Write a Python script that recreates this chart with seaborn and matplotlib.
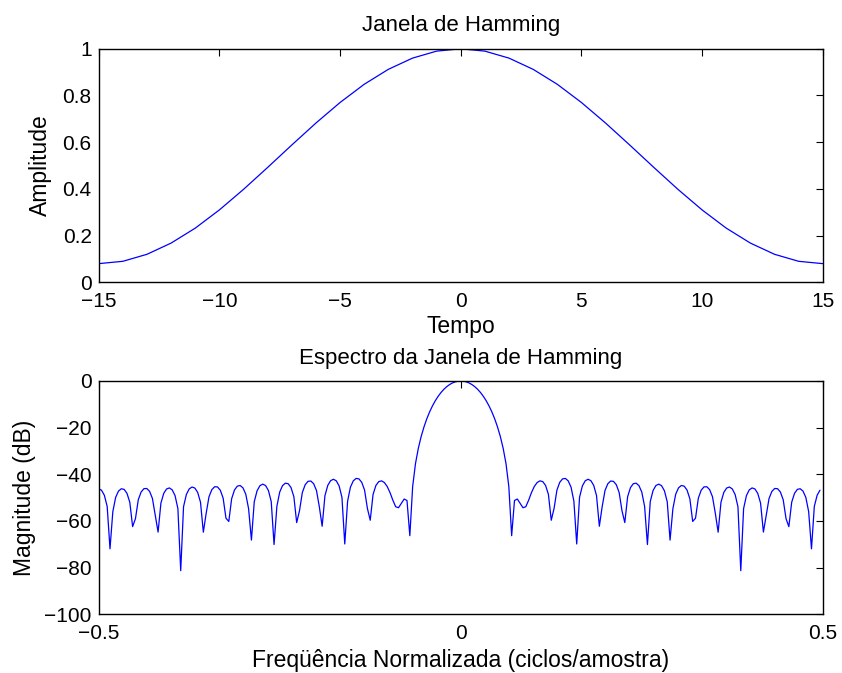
import numpy as np
import pandas as pd
import matplotlib
matplotlib.use("Agg")
import matplotlib.pyplot as plt
from matplotlib.ticker import FuncFormatter
import seaborn as sns

# ---- data ----
tempo = list(range(-15, 16))
half = [0.080, 0.090, 0.120, 0.168, 0.232, 0.310, 0.398, 0.492,
        0.588, 0.682, 0.770, 0.848, 0.912, 0.960, 0.990]
amplitude = half + [1.000] + half[::-1]

# spectrum of the window above (FFT of the listed amplitudes)
n_fft = 256
top_yticks = [0, 0.2, 0.4, 0.6, 0.8, 1]
top_xticks = [-15, -10, -5, 0, 5, 10, 15]
bot_yticks = [-100, -80, -60, -40, -20, 0]
bot_xticks = [-0.5, 0, 0.5]

spec = np.fft.fftshift(np.fft.fft(np.array(amplitude), n_fft))
mag_db = 20 * np.log10(np.abs(spec) / np.max(np.abs(spec)))
freq = (np.arange(n_fft) - n_fft // 2) / n_fft

df_top = pd.DataFrame({"Tempo": tempo, "Amplitude": amplitude})
df_bot = pd.DataFrame({"f": freq, "dB": mag_db})

sns.set_style("white")
plt.rcParams["font.family"] = ["Liberation Sans", "DejaVu Sans"]
plt.rcParams["axes.unicode_minus"] = True
plt.rcParams["text.color"] = "black"
plt.rcParams["axes.labelcolor"] = "black"
plt.rcParams["xtick.color"] = "black"
plt.rcParams["ytick.color"] = "black"

fig = plt.figure(figsize=(8.42, 6.73), dpi=100)
ax1 = fig.add_axes([0.1172, 0.5805, 0.860, 0.347])
ax2 = fig.add_axes([0.1172, 0.0872, 0.860, 0.3467])

fmt = FuncFormatter(lambda v, p: ("%g" % v).replace("-", "\u2212"))

TICK_FS = 15
LAB_FS = 16.5
TIT_FS = 16

sns.lineplot(data=df_top, x="Tempo", y="Amplitude", ax=ax1, color=(0, 0, 1),
             linewidth=0.9, estimator=None)
ax1.set_xlim(-15, 15)
ax1.set_ylim(0, 1)
ax1.set_xticks(top_xticks)
ax1.set_yticks(top_yticks)
ax1.set_title("Janela de Hamming", fontsize=TIT_FS, pad=13, color="black")
ax1.set_xlabel("Tempo", fontsize=LAB_FS, labelpad=3, color="black")
ax1.set_ylabel("Amplitude", fontsize=LAB_FS, labelpad=8, color="black")

sns.lineplot(data=df_bot, x="f", y="dB", ax=ax2, color=(0, 0, 1),
             linewidth=0.9, estimator=None)
ax2.set_xlim(-0.5, 0.5)
ax2.set_ylim(-100, 0)
ax2.set_xticks(bot_xticks)
ax2.set_yticks(bot_yticks)
ax2.set_title("Espectro da Janela de Hamming", fontsize=TIT_FS, pad=12, color="black")
ax2.set_xlabel("Freqüência Normalizada (ciclos/amostra)", fontsize=LAB_FS,
               labelpad=4, color="black")
ax2.set_ylabel("Magnitude (dB)", fontsize=LAB_FS, labelpad=6, color="black")

for ax in (ax1, ax2):
    ax.xaxis.set_major_formatter(fmt)
    ax.yaxis.set_major_formatter(fmt)
    ax.tick_params(direction="in", top=True, right=True, length=5, width=0.8,
                   labelsize=TICK_FS, colors="black")
    ax.tick_params(axis="x", pad=7)
    ax.tick_params(axis="y", pad=5)
    for s in ax.spines.values():
        s.set_visible(True)
        s.set_color("black")
        s.set_linewidth(1.0)

fig.savefig("out.png", dpi=100, facecolor="white")
